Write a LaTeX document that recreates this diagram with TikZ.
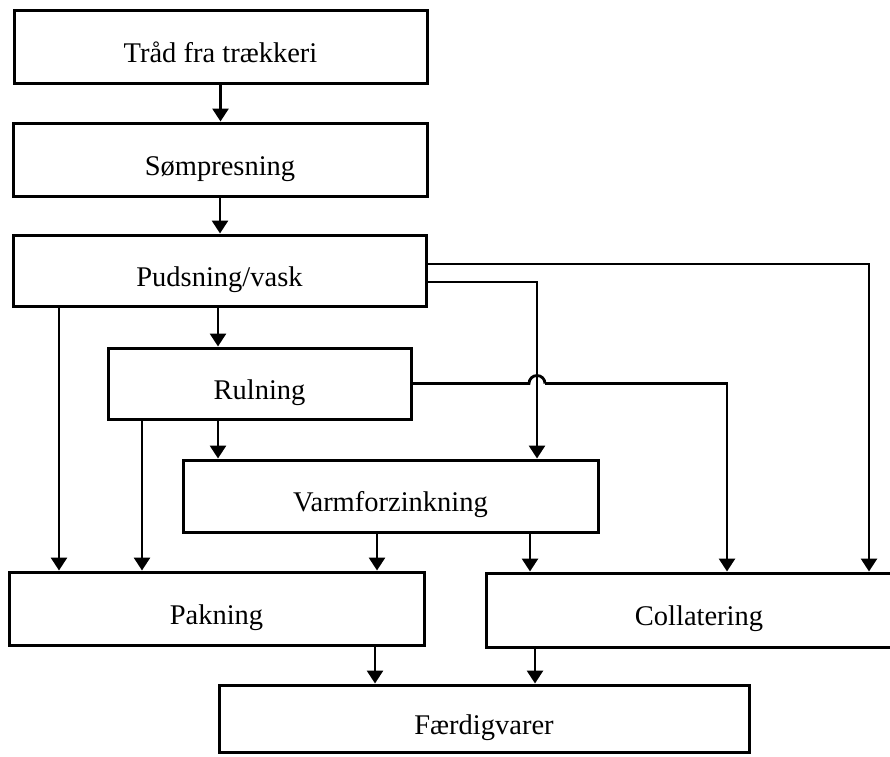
\documentclass[tikz,border=0pt]{standalone}
\usepackage{fontspec}
\setmainfont{Liberation Serif}
\usetikzlibrary{arrows.meta,calc}
\begin{document}
\begin{tikzpicture}[x=1pt,y=-1pt,
  box/.style={draw,line width=3pt,inner sep=0pt,text height=31pt,text depth=0pt,font=\fontsize{28.5}{32}\selectfont},
  arr/.style={line width=2.8pt,-{Triangle[length=13pt,width=16pt]}},
  ln/.style={line width=2.8pt}]
\useasboundingbox (0,0) rectangle (890,756);
\node[box,minimum width=413pt,minimum height=73pt] (B1) at (220.5,46.5) {Tråd fra trækkeri};
\node[box,minimum width=414pt,minimum height=73pt] (B2) at (220,159.5) {Sømpresning};
\node[box,minimum width=413pt,minimum height=71pt] (B3) at (219.5,270.5) {Pudsning/vask};
\node[box,minimum width=303pt,minimum height=71pt] (B4) at (259.5,383.5) {Rulning};
\node[box,minimum width=415pt,minimum height=72pt] (B5) at (390.5,496) {Varmforzinkning};
\node[box,minimum width=415pt,minimum height=73pt] (B6) at (216.5,608.5) {Pakning};
\node[box,minimum width=426pt,minimum height=74pt] (B7) at (699,610) {Collatering};
\node[box,minimum width=530pt,minimum height=67pt] (B8) at (484,718.5) {Færdigvarer};
\coordinate (xa) at (59,0);
\coordinate (xb) at (142,0);
\coordinate (xc) at (218,0);
\coordinate (xd) at (377,0);
\coordinate (xe) at (530,0);
\coordinate (xf) at (537,0);
\coordinate (xg) at (727,0);
\coordinate (xh) at (869,0);
\coordinate (xi) at (375,0);
\coordinate (xj) at (535,0);
\coordinate (hopa) at (529,383.5);
\coordinate (hopb) at (545,383.5);
\draw[arr] (B1.south) -- (B1.south |- B2.north);
\draw[arr] (B2.south) -- (B2.south |- B3.north);
\draw[arr] (B3.south -| xc) -- (B4.north -| xc);
\draw[arr] (B3.south -| xa) -- (B6.north -| xa);
\draw[arr] (B4.south -| xb) -- (B6.north -| xb);
\draw[arr] (B4.south -| xc) -- (B5.north -| xc);
\draw[arr] ([yshift=6.5pt]B3.east) -| (B7.north -| xh);
\draw[arr] ([yshift=-11.5pt]B3.east) -| (B5.north -| xf);
\draw[ln] (B4.east) -- (hopa) arc[start angle=180,end angle=0,radius=8pt];
\draw[arr] (hopb) -| (B7.north -| xg);
\draw[arr] (B5.south -| xd) -- (B6.north -| xd);
\draw[arr] (B5.south -| xe) -- (B7.north -| xe);
\draw[arr] (B6.south -| xi) -- (B8.north -| xi);
\draw[arr] (B7.south -| xj) -- (B8.north -| xj);
\end{tikzpicture}
\end{document}
